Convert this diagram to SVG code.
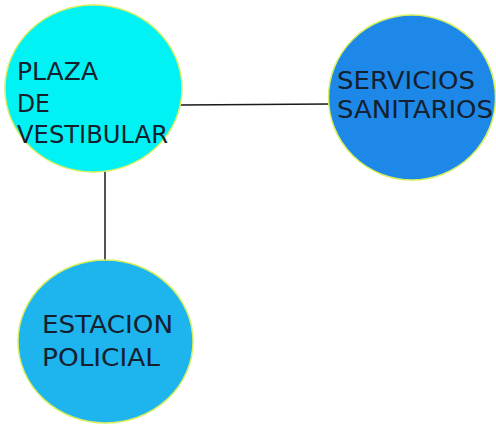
<svg xmlns="http://www.w3.org/2000/svg" width="496" height="424" viewBox="0 0 496 424">
<style>
.node{stroke:#d8f060;stroke-width:1.5}
.lbl{font-family:"DejaVu Sans","Liberation Sans",sans-serif;font-size:24px;fill:#15202e}
.conn{stroke:#1a1a1a;stroke-width:1.5;fill:none}
</style>
<rect width="496" height="424" fill="#ffffff"/>
<g id="connectors">
<line class="conn" x1="180" y1="105" x2="330" y2="104"/>
<line class="conn" x1="105" y1="171" x2="105" y2="262"/>
</g>
<g id="plaza">
<ellipse class="node" cx="93.5" cy="88.5" rx="88.5" ry="83.5" fill="#00f2f4"/>
<text class="lbl" x="17" y="80" textLength="81" lengthAdjust="spacingAndGlyphs">PLAZA</text>
<text class="lbl" x="17" y="112" textLength="33" lengthAdjust="spacingAndGlyphs">DE</text>
<text class="lbl" x="17" y="143" textLength="151" lengthAdjust="spacingAndGlyphs">VESTIBULAR</text>
</g>
<g id="servicios">
<ellipse class="node" cx="412" cy="97.5" rx="83.5" ry="82.5" fill="#1e88e8"/>
<text class="lbl" x="337" y="89" textLength="138" lengthAdjust="spacingAndGlyphs">SERVICIOS</text>
<text class="lbl" x="337" y="118" textLength="156" lengthAdjust="spacingAndGlyphs">SANITARIOS</text>
</g>
<g id="estacion">
<ellipse class="node" cx="105.5" cy="341.5" rx="87.5" ry="81.5" fill="#1eb4ee"/>
<text class="lbl" x="42" y="333" textLength="131" lengthAdjust="spacingAndGlyphs">ESTACION</text>
<text class="lbl" x="42" y="366" textLength="118" lengthAdjust="spacingAndGlyphs">POLICIAL</text>
</g>
</svg>
